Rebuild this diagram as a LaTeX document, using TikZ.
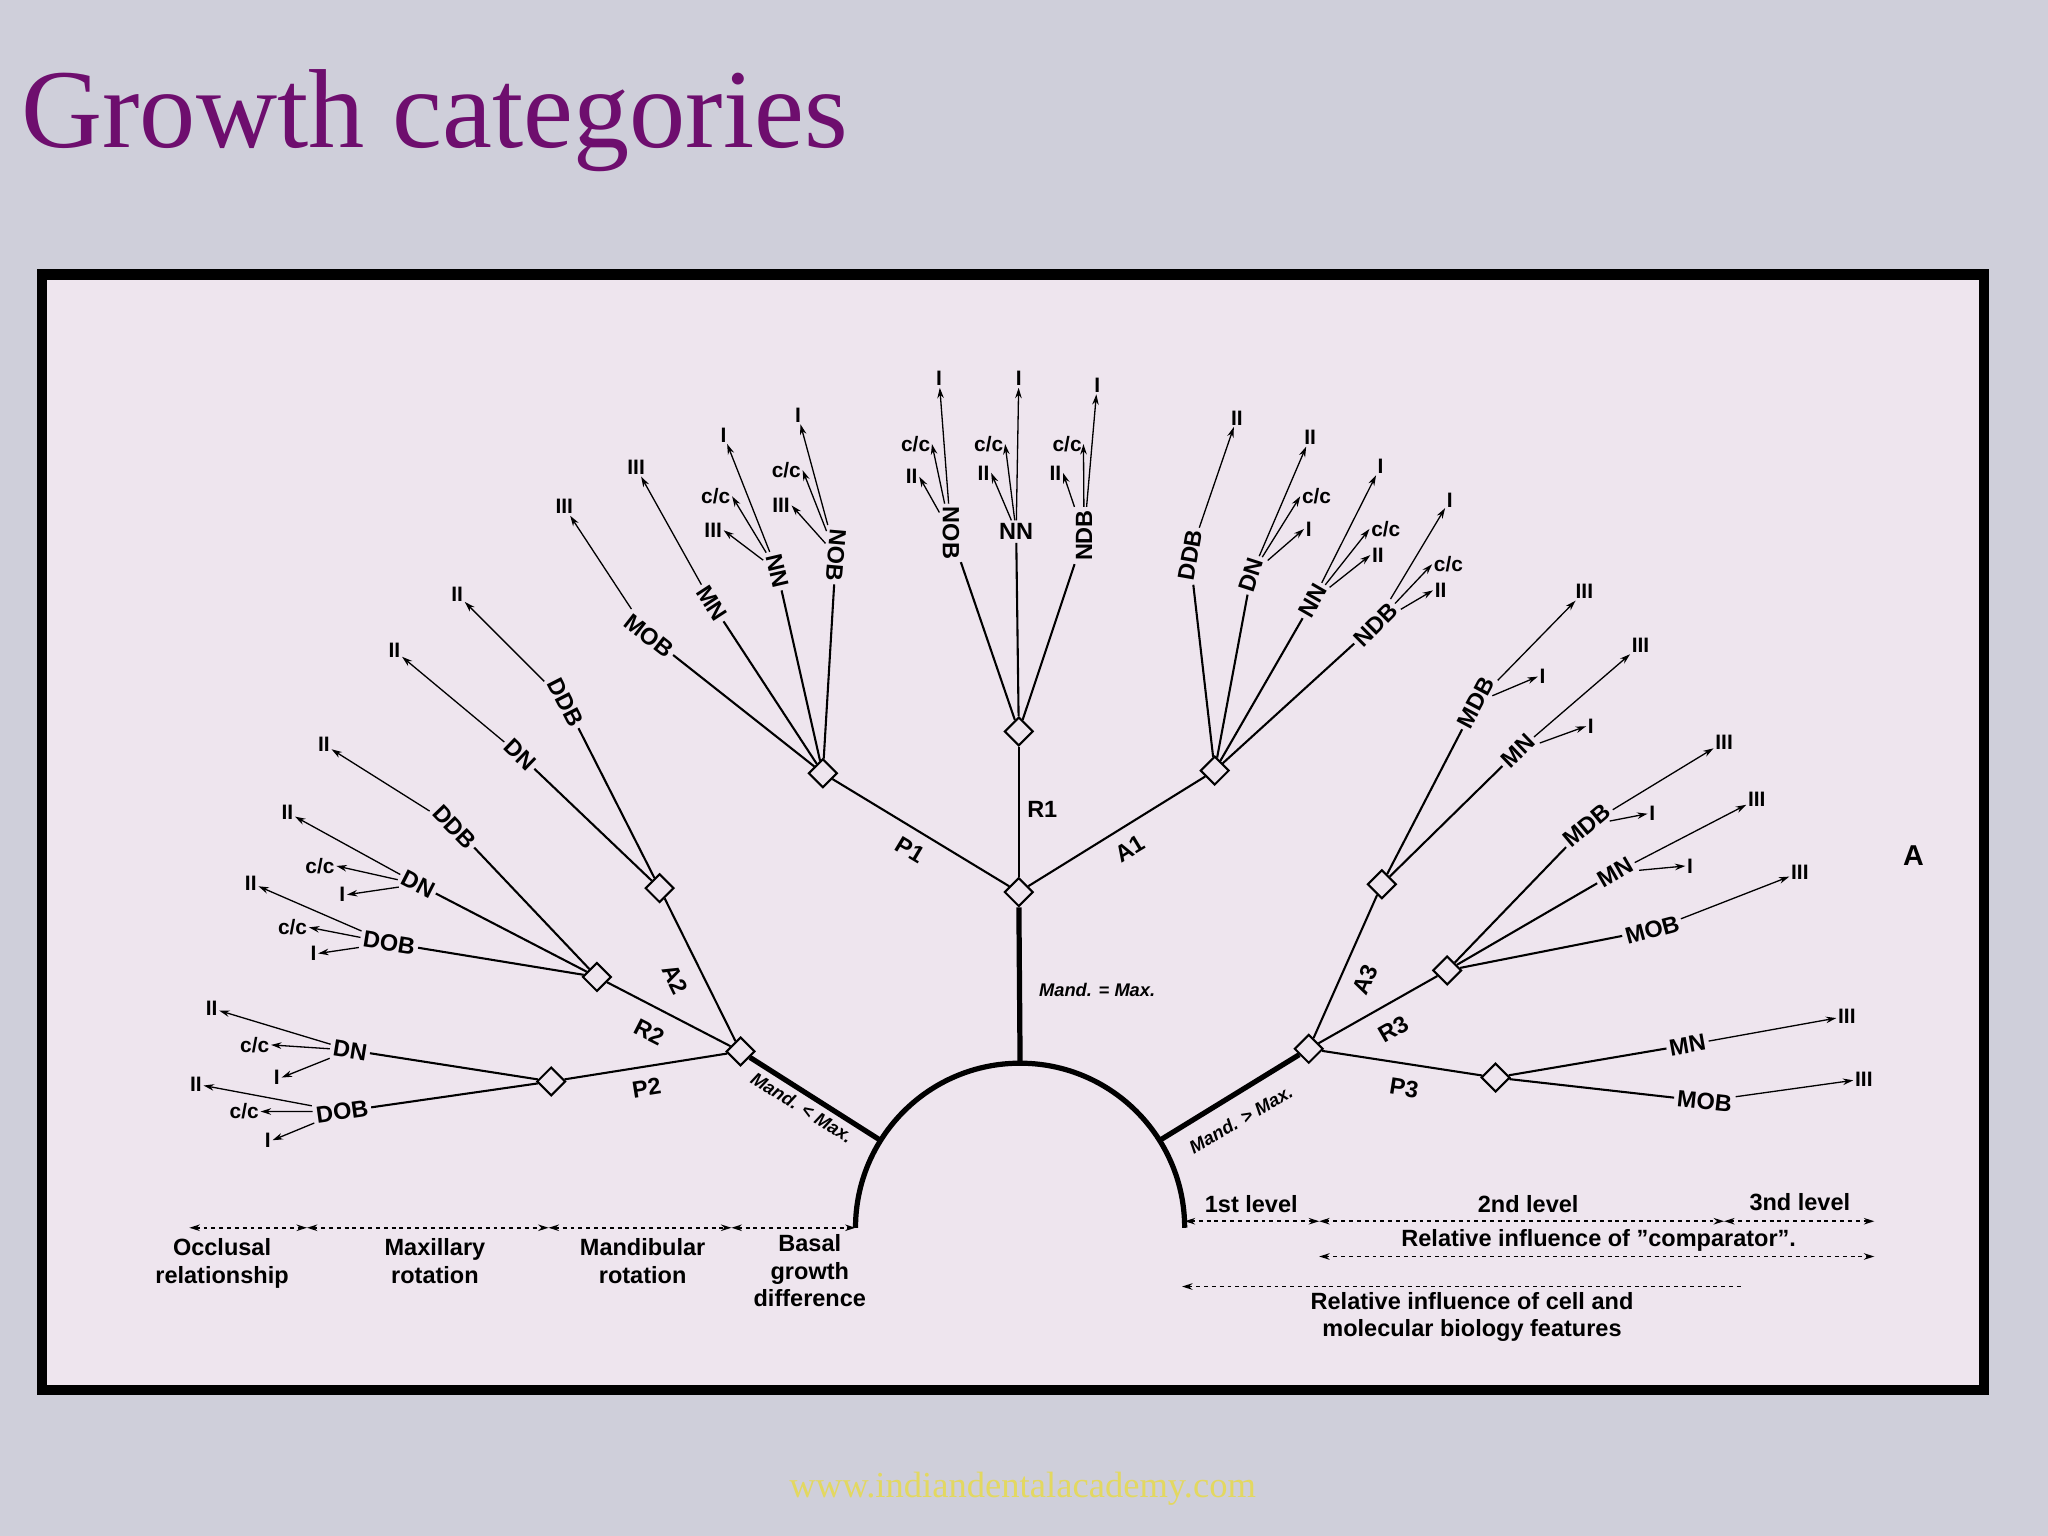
\documentclass[tikz,border=0pt]{standalone}
\usepackage{fontspec}
\setmainfont{Liberation Serif}
\setsansfont{Liberation Sans}
\usetikzlibrary{shapes.geometric,arrows.meta}
\definecolor{bg}{HTML}{CFCFDA}
\definecolor{paper}{HTML}{EEE5EE}
\definecolor{ttl}{HTML}{6E0E6E}
\definecolor{foot}{HTML}{E3D860}
\tikzset{
 lab/.style={font=\sffamily\bfseries\fontsize{9}{10}\selectfont,inner sep=1pt},
 sm/.style={font=\sffamily\bfseries\fontsize{8}{9}\selectfont,inner sep=0.5pt},
 it/.style={font=\sffamily\bfseries\itshape\fontsize{7}{8}\selectfont,inner sep=1pt},
 dia/.style={diamond,draw,fill=paper,line width=0.8pt,inner sep=0,minimum width=11pt,minimum height=11pt},
 ln/.style={line width=0.8pt},
 thk/.style={line width=2pt},
 arr/.style={line width=0.5pt,-{Stealth[length=4pt,width=2.5pt]}},
 dar/.style={line width=0.6pt,dash pattern=on 1.5pt off 1.5pt,{Stealth[length=4pt,width=2.5pt]}-{Stealth[length=4pt,width=2.5pt]}},
 bot/.style={font=\sffamily\bfseries\fontsize{9}{10.5}\selectfont,align=center,inner sep=1pt},
}
\begin{document}
\begin{tikzpicture}[x=0.5pt,y=-0.5pt]
\fill[bg] (0,0) rectangle (1568,1176);
\useasboundingbox (0,0) rectangle (1568,1176);
\node[anchor=base west,text=ttl,font=\fontsize{43}{45}\selectfont,inner sep=0] (title) at (16,113) {Growth categories};
\draw[line width=4pt,fill=paper] (32,210) rectangle (1519,1064);
\node[text=foot,font=\fontsize{14}{15}\selectfont] (web) at (783,1140) {www.indiandentalacademy.com};

% trunk
\draw[thk] (655,940) arc[start angle=180,end angle=360,radius=126];
\coordinate (top) at (781,814);
\coordinate (al) at (674,873);
\coordinate (ar) at (888,873);
\node[dia] (d0) at (780,683) {};
\node[dia] (dL) at (567,805) {};
\node[dia] (dR) at (1002,803) {};
\draw[thk] (top) -- (d0);
\draw[thk] (al) -- (dL);
\draw[thk] (ar) -- (dR);
\node[it] (mq) at (840,758) {Mand. = Max.};
\node[it,rotate=-32] (ml) at (614,848) {Mand. < Max.};
\node[it,rotate=30] (mg) at (950,857) {Mand. > Max.};

\node[dia] (dP1) at (630,592) {};
\node[dia] (dR1) at (780,560) {};
\node[dia] (dA1) at (930,590) {};
\draw[ln] (d0) -- (dP1); \draw[ln] (d0) -- (dR1); \draw[ln] (d0) -- (dA1);
\node[lab,rotate=-31] (tP1) at (697,651) {P1};
\node[lab] (tR1) at (798,620) {R1};
\node[lab,rotate=31] (tA1) at (865,650) {A1};

\node[dia] (dA2) at (505,680) {};
\node[dia] (dR2) at (457,748) {};
\node[dia] (dP2) at (422,828) {};
\draw[ln] (dL) -- (dA2); \draw[ln] (dL) -- (dR2); \draw[ln] (dL) -- (dP2);
\node[lab,rotate=-64] (tA2) at (517,750) {A2};
\node[lab,rotate=-27] (tR2) at (497,790) {R2};
\node[lab,rotate=9] (tP2) at (495,833) {P2};

\node[dia] (dA3) at (1058,677) {};
\node[dia] (dR3) at (1108,743) {};
\node[dia] (dP3) at (1145,825) {};
\draw[ln] (dR) -- (dA3); \draw[ln] (dR) -- (dR3); \draw[ln] (dR) -- (dP3);
\node[lab,rotate=66] (tA3) at (1045,750) {A3};
\node[lab,rotate=30] (tR3) at (1067,788) {R3};
\node[lab,rotate=-9] (tP3) at (1075,833) {P3};

% P1 group
\node[lab,rotate=-38] (a1) at (497,487) {MOB};
\node[lab,rotate=-57] (a2) at (545,462) {MN};
\node[lab,rotate=-77] (a3) at (595,437) {NN};
\node[lab,rotate=-95] (a4) at (640,425) {NOB};
\foreach \n in {a1,a2,a3,a4} \draw[ln] (dP1) -- (\n);
\node[sm] (a1x) at (432,388) {III};
\node[sm] (a2x) at (487,358) {III};
\node[sm] (a3a) at (554,333) {I};
\node[sm] (a3b) at (548,380) {c/c};
\node[sm] (a3c) at (546,406) {III};
\node[sm] (a4a) at (611,318) {I};
\node[sm] (a4b) at (602,360) {c/c};
\node[sm] (a4c) at (598,387) {III};
\draw[arr] (a1) -- (a1x); \draw[arr] (a2) -- (a2x);
\draw[arr] (a3) -- (a3a); \draw[arr] (a3) -- (a3b.east); \draw[arr] (a3) -- (a3c.east);
\draw[arr] (a4) -- (a4a); \draw[arr] (a4) -- (a4b.east); \draw[arr] (a4) -- (a4c.east);

% R1 group
\node[lab,rotate=-90] (b1) at (728,408) {NOB};
\node[lab] (b2) at (778,407) {NN};
\node[lab,rotate=90] (b3) at (830,410) {NDB};
\foreach \n in {b1,b2,b3} \draw[ln] (dR1) -- (\n);
\node[sm] (b1a) at (719,290) {I};
\node[sm] (b1b) at (701,340) {c/c};
\node[sm] (b1c) at (698,365) {II};
\node[sm] (b2a) at (780,290) {I};
\node[sm] (b2b) at (757,340) {c/c};
\node[sm] (b2c) at (753,362) {II};
\node[sm] (b3a) at (840,295) {I};
\node[sm] (b3b) at (817,340) {c/c};
\node[sm] (b3c) at (808,362) {II};
\draw[arr] (b1) -- (b1a); \draw[arr] (b1) -- (b1b.east); \draw[arr] (b1) -- (b1c.east);
\draw[arr] (b2) -- (b2a); \draw[arr] (b2) -- (b2b.east); \draw[arr] (b2) -- (b2c.east);
\draw[arr] (b3) -- (b3a); \draw[arr] (b3) -- (b3b.east); \draw[arr] (b3) -- (b3c.east);

% A1 group
\node[lab,rotate=80] (c1) at (911,425) {DDB};
\node[lab,rotate=72] (c2) at (958,440) {DN};
\node[lab,rotate=60] (c3) at (1005,460) {NN};
\node[lab,rotate=45] (c4) at (1053,478) {NDB};
\foreach \n in {c1,c2,c3,c4} \draw[ln] (dA1) -- (\n);
\node[sm] (c1x) at (947,320) {II};
\node[sm] (c2a) at (1003,335) {II};
\node[sm] (c2b) at (1008,380) {c/c};
\node[sm] (c2c) at (1002,405) {I};
\node[sm] (c3a) at (1057,357) {I};
\node[sm] (c3b) at (1061,405) {c/c};
\node[sm] (c3c) at (1055,425) {II};
\node[sm] (c4a) at (1110,383) {I};
\node[sm] (c4b) at (1109,432) {c/c};
\node[sm] (c4c) at (1103,452) {II};
\draw[arr] (c1) -- (c1x);
\draw[arr] (c2) -- (c2a); \draw[arr] (c2) -- (c2b.west); \draw[arr] (c2) -- (c2c.west);
\draw[arr] (c3) -- (c3a); \draw[arr] (c3) -- (c3b.west); \draw[arr] (c3) -- (c3c.west);
\draw[arr] (c4) -- (c4a); \draw[arr] (c4) -- (c4b.west); \draw[arr] (c4) -- (c4c.west);

% A2 group
\node[lab,rotate=-63] (e1) at (433,538) {DDB};
\node[lab,rotate=-44] (e2) at (398,578) {DN};
\foreach \n in {e1,e2} \draw[ln] (dA2) -- (\n);
\node[sm] (e1x) at (350,455) {II};
\node[sm] (e2x) at (302,498) {II};
\draw[arr] (e1) -- (e1x); \draw[arr] (e2) -- (e2x);

% R2 group
\node[lab,rotate=-46] (f1) at (348,633) {DDB};
\node[lab,rotate=-27] (f2) at (320,677) {DN};
\node[lab,rotate=-9] (f3) at (298,722) {DOB};
\foreach \n in {f1,f2,f3} \draw[ln] (dR2) -- (\n);
\node[sm] (f1x) at (248,570) {II};
\node[sm] (f2a) at (220,622) {II};
\node[sm] (f2b) at (245,663) {c/c};
\node[sm] (f2c) at (262,685) {I};
\node[sm] (f3a) at (192,676) {II};
\node[sm] (f3b) at (224,710) {c/c};
\node[sm] (f3c) at (240,730) {I};
\draw[arr] (f1) -- (f1x);
\draw[arr] (f2) -- (f2a); \draw[arr] (f2) -- (f2b.east); \draw[arr] (f2) -- (f2c.east);
\draw[arr] (f3) -- (f3a); \draw[arr] (f3) -- (f3b.east); \draw[arr] (f3) -- (f3c.east);

% P2 group
\node[lab,rotate=-9] (g1) at (268,804) {DN};
\node[lab,rotate=8] (g2) at (262,851) {DOB};
\foreach \n in {g1,g2} \draw[ln] (dP2) -- (\n);
\node[sm] (g1a) at (162,772) {II};
\node[sm] (g1b) at (195,800) {c/c};
\node[sm] (g1c) at (212,825) {I};
\node[sm] (g2a) at (150,830) {II};
\node[sm] (g2b) at (187,851) {c/c};
\node[sm] (g2c) at (205,873) {I};
\draw[arr] (g1) -- (g1a); \draw[arr] (g1) -- (g1b.east); \draw[arr] (g1) -- (g1c.east);
\draw[arr] (g2) -- (g2a); \draw[arr] (g2) -- (g2b.east); \draw[arr] (g2) -- (g2c.east);

% A3 group
\node[lab,rotate=62] (h1) at (1130,538) {MDB};
\node[lab,rotate=44] (h2) at (1162,575) {MN};
\foreach \n in {h1,h2} \draw[ln] (dA3) -- (\n);
\node[sm] (h1a) at (1213,453) {III};
\node[sm] (h1b) at (1181,518) {I};
\node[sm] (h2a) at (1256,494) {III};
\node[sm] (h2b) at (1218,556) {I};
\draw[arr] (h1) -- (h1a); \draw[arr] (h1) -- (h1b.west);
\draw[arr] (h2) -- (h2a); \draw[arr] (h2) -- (h2b.west);

% R3 group
\node[lab,rotate=40] (k1) at (1215,632) {MDB};
\node[lab,rotate=30] (k2) at (1237,668) {MN};
\node[lab,rotate=15] (k3) at (1265,712) {MOB};
\foreach \n in {k1,k2,k3} \draw[ln] (dR3) -- (\n);
\node[sm] (k1a) at (1320,568) {III};
\node[sm] (k1b) at (1265,623) {I};
\node[sm] (k2a) at (1345,612) {III};
\node[sm] (k2b) at (1294,663) {I};
\node[sm] (k3a) at (1378,668) {III};
\draw[arr] (k1) -- (k1a); \draw[arr] (k1) -- (k1b.west);
\draw[arr] (k2) -- (k2a); \draw[arr] (k2) -- (k2b.west);
\draw[arr] (k3) -- (k3a);

% P3 group
\node[lab,rotate=10] (m1) at (1292,800) {MN};
\node[lab,rotate=-6] (m2) at (1305,843) {MOB};
\foreach \n in {m1,m2} \draw[ln] (dP3) -- (\n);
\node[sm] (m1a) at (1414,778) {III};
\node[sm] (m2a) at (1427,826) {III};
\draw[arr] (m1) -- (m1a); \draw[arr] (m2) -- (m2a);

\node[font=\sffamily\bfseries\fontsize{11}{12}\selectfont] (bigA) at (1465,655) {A};

% bottom left scale
\coordinate (s0) at (145,940); \coordinate (s1) at (235,940);
\coordinate (s2) at (420,940); \coordinate (s3) at (560,940); \coordinate (s4) at (655,940);
\draw[dar] (s0) -- (s1); \draw[dar] (s1) -- (s2); \draw[dar] (s2) -- (s3); \draw[dar] (s3) -- (s4);
\node[bot,anchor=north] (o1) at (170,946) {Occlusal\\relationship};
\node[bot,anchor=north] (o2) at (333,946) {Maxillary\\rotation};
\node[bot,anchor=north] (o3) at (492,946) {Mandibular\\rotation};
\node[bot,anchor=north] (o4) at (620,943) {Basal\\growth\\difference};

% bottom right scale
\node[bot] (l1) at (958,922) {1st level};
\node[bot] (l2) at (1170,922) {2nd level};
\node[bot] (l3) at (1378,920) {3nd level};
\coordinate (r0) at (907,935); \coordinate (r1) at (1010,935); \coordinate (r2) at (1320,935); \coordinate (r3) at (1435,935);
\draw[dar] (r0) -- (r1); \draw[dar] (r1) -- (r2); \draw[dar] (r2) -- (r3);
\node[bot] (ci) at (1224,950) {Relative influence of "comparator".};
\coordinate (q0) at (1010,962); \coordinate (q1) at (1435,962);
\draw[dar] (q0) -- (q1);
\coordinate (u0) at (905,985); \coordinate (u1) at (1335,985);
\draw[line width=0.6pt,dash pattern=on 1.5pt off 1.5pt,{Stealth[length=4pt,width=2.5pt]}-] (u0) -- (u1);
\node[bot,anchor=north] (cm) at (1127,987) {Relative influence of cell and\\molecular biology features};
\end{tikzpicture}
\end{document}
